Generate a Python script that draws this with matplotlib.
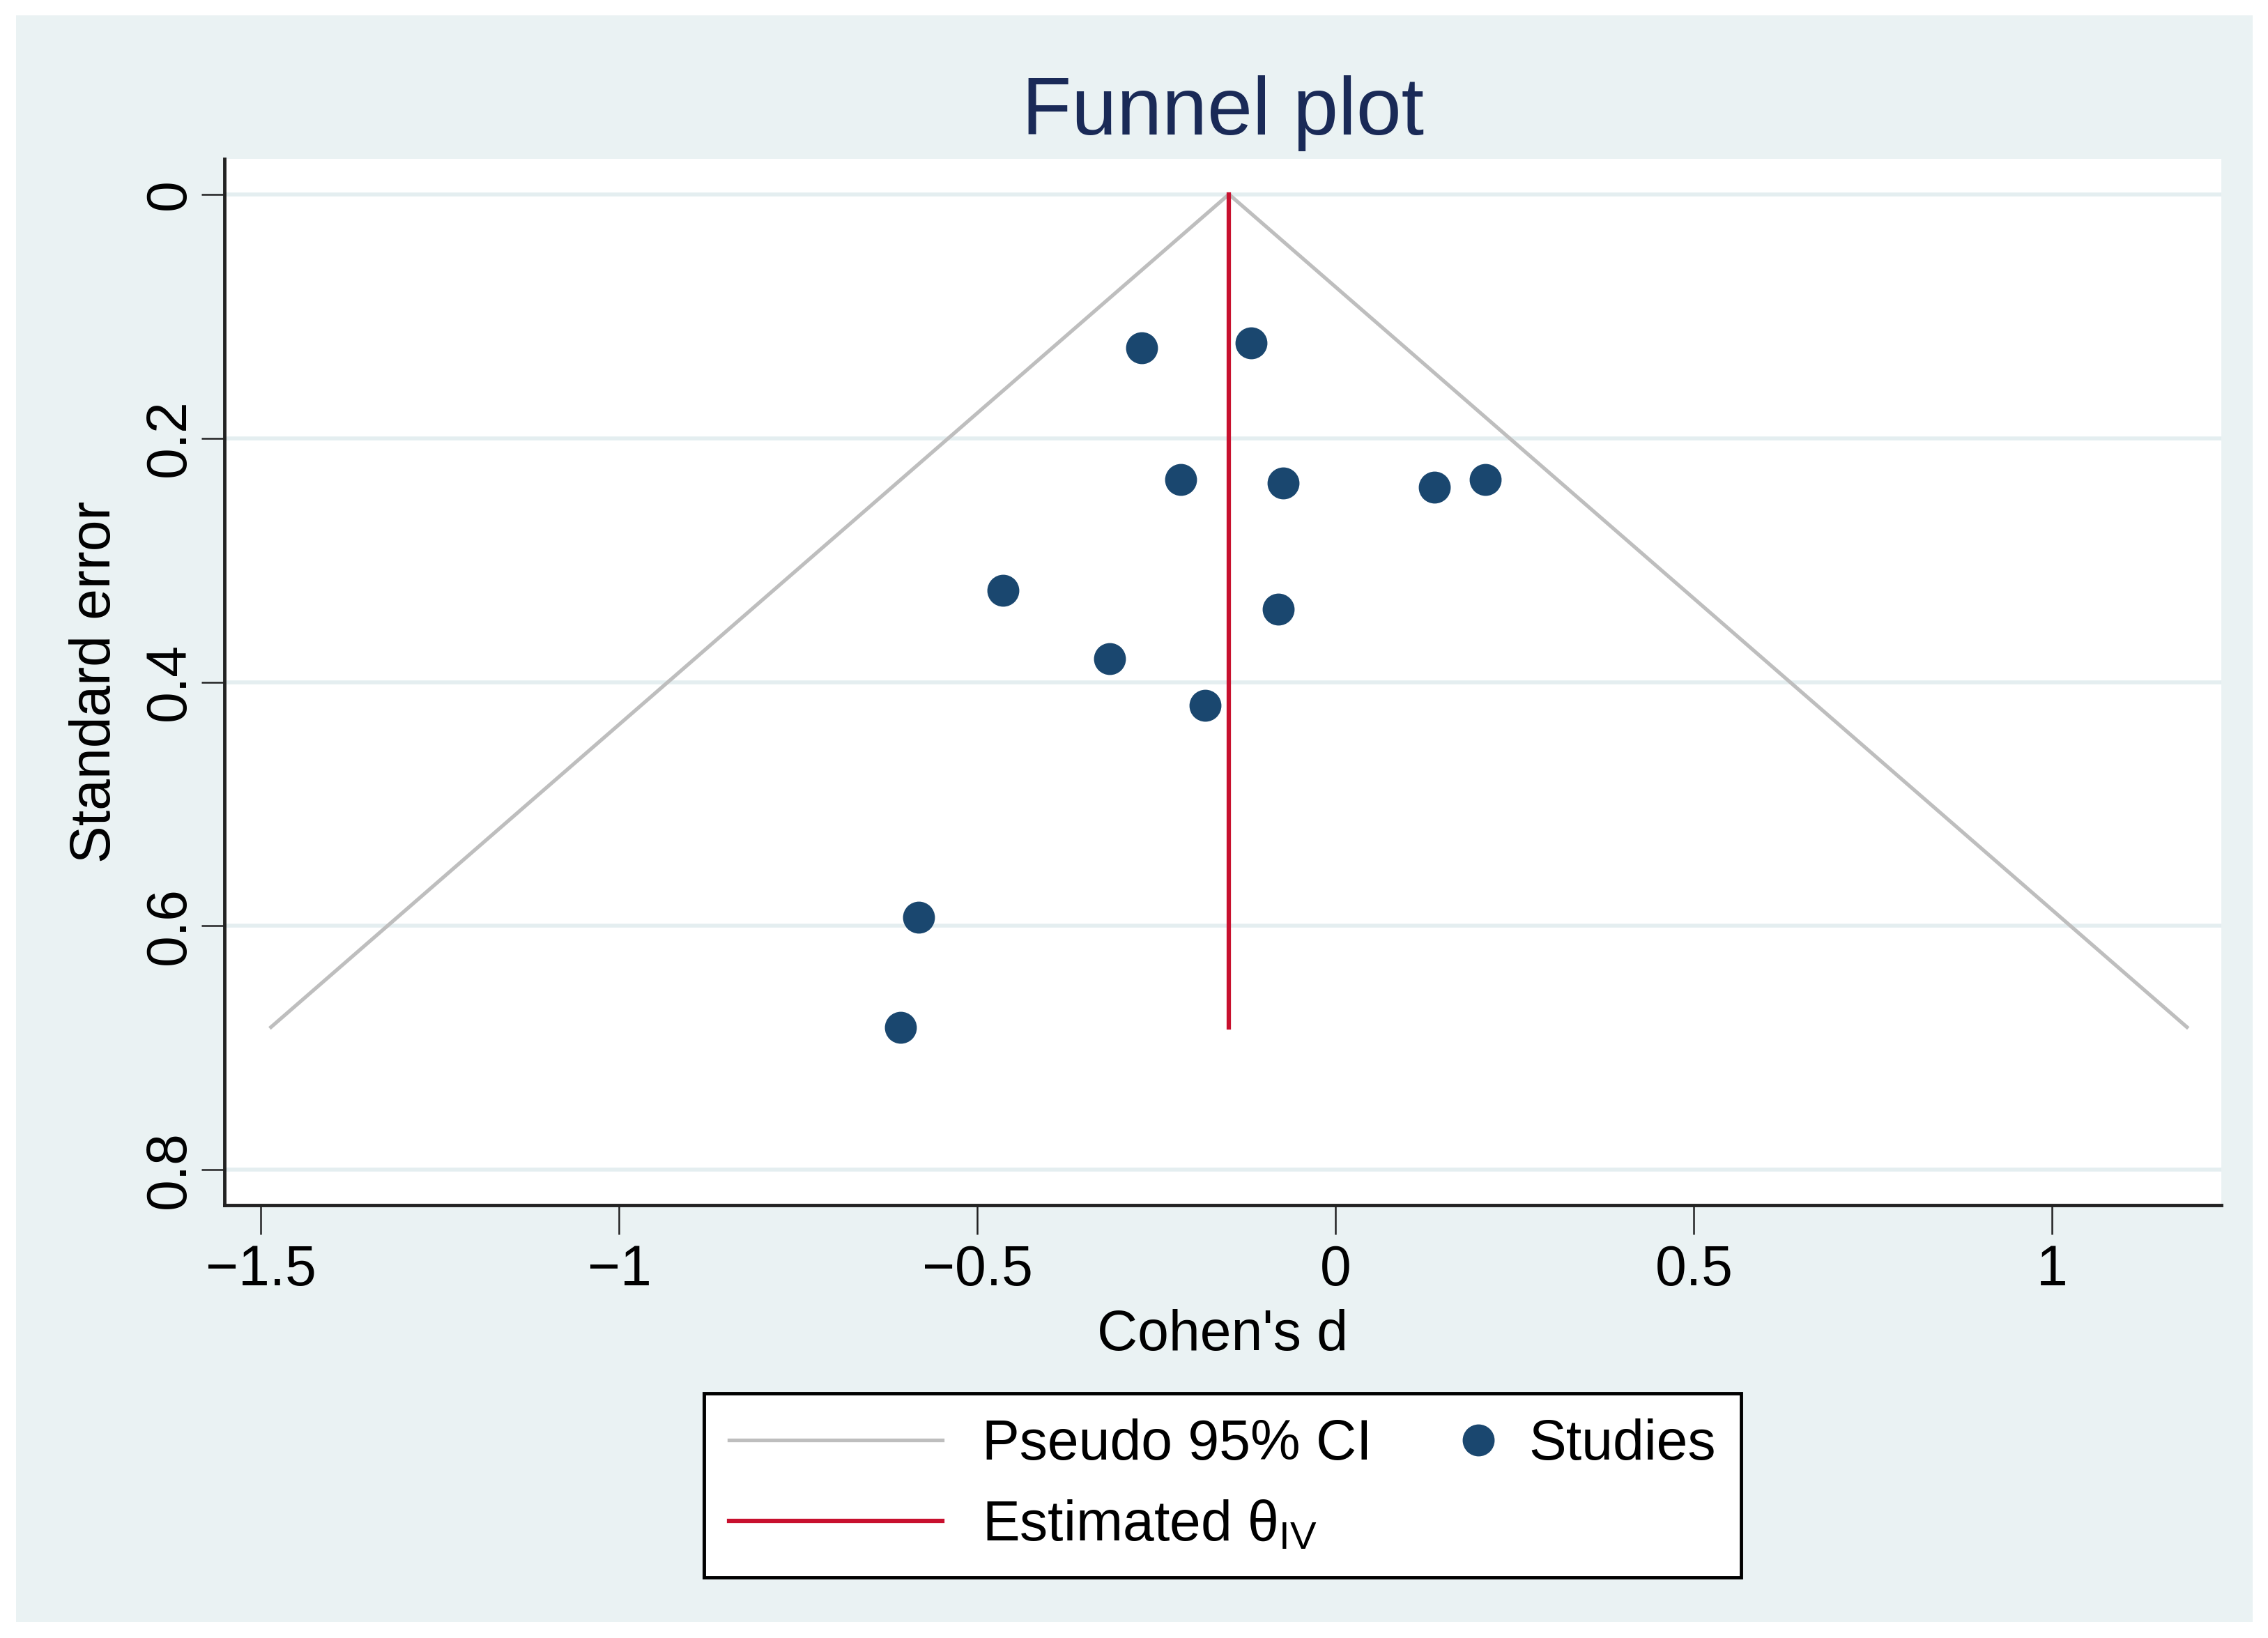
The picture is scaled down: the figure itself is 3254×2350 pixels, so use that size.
import numpy as np
import matplotlib
matplotlib.use('Agg')
import matplotlib.pyplot as plt
from matplotlib.lines import Line2D
from matplotlib.legend_handler import HandlerLine2D
from matplotlib.patches import Rectangle

# ---------------- data ----------------
study_d = [-0.271, -0.118, -0.216, -0.073, 0.138, 0.209, -0.464, -0.080, -0.316, -0.182, -0.582, -0.607]
study_se = [0.126, 0.122, 0.234, 0.237, 0.240, 0.234, 0.325, 0.340, 0.381, 0.419, 0.593, 0.683]
theta_iv = -0.149
ci_x = [-1.486, -0.149, 1.188]
ci_se = [0.683, 0.0, 0.683]
theta_se = [0.0, 0.683]
x_ticks = [-1.5, -1, -0.5, 0, 0.5, 1]
x_tick_labels = ['\u22121.5', '\u22121', '\u22120.5', '0', '0.5', '1']
y_ticks = [0, 0.2, 0.4, 0.6, 0.8]
y_tick_labels = ['0', '0.2', '0.4', '0.6', '0.8']

# ---------------- style ----------------
plt.rcParams['font.family'] = ['Liberation Sans', 'DejaVu Sans']
plt.rcParams['mathtext.fontset'] = 'custom'
plt.rcParams['mathtext.rm'] = 'Liberation Sans'
plt.rcParams['mathtext.it'] = 'Liberation Sans:italic'

W, H = 3255, 2350
BG = '#EAF2F3'
NAVY = '#1A476F'
RED = '#C8102E'
GRAY = '#BEBEBE'
FS = 58

fig = plt.figure(figsize=(W / 100, H / 100), dpi=100, facecolor='white')
fig.patches.append(Rectangle((23 / W, 1 - 2327 / H), (3232 - 23) / W, (2327 - 22) / H,
                             transform=fig.transFigure, facecolor=BG, edgecolor='none', zorder=-10))

ax = fig.add_axes([322 / W, 1 - 1729 / H, (3187 - 322) / W, (1729 - 228) / H])
ax.set_facecolor('white')

ax.set_xlim(-1.551, 1.236)
ax.set_ylim(0.829, -0.029)

ax.set_yticks(y_ticks)
ax.set_yticklabels(y_tick_labels, rotation=90, va='center', fontsize=FS)
ax.set_xticks(x_ticks)
ax.set_xticklabels(x_tick_labels, fontsize=FS)
ax.grid(axis='y', color='#E4EEF0', lw=4)
ax.set_axisbelow(True)

for s in ['top', 'right']:
    ax.spines[s].set_visible(False)
for s in ['left', 'bottom']:
    ax.spines[s].set_linewidth(3.5)
    ax.spines[s].set_color('#222222')

ax.tick_params(axis='x', length=30, width=1.8, pad=10, color='#222222')
ax.tick_params(axis='y', length=24, width=1.8, pad=5, color='#222222')

ci_line, = ax.plot(ci_x, ci_se, color=GRAY, lw=3.8, zorder=2)
est_line, = ax.plot([theta_iv, theta_iv], theta_se, color=RED, lw=4.5, zorder=3)
studies, = ax.plot(study_d, study_se, ls='none', marker='o', ms=32, color=NAVY, zorder=4)

fig.text(1755 / W, 1 - 193 / H, 'Funnel plot', ha='center', va='baseline', fontsize=84, color='#1A2A57')
fig.text(1754 / W, 1 - 1937 / H, "Cohen's d", ha='center', va='baseline', fontsize=FS)
fig.text(137 / W, 1 - 978 / H, 'Standard error', ha='center', va='center', rotation=90, fontsize=FS)


class RightMarker(HandlerLine2D):
    """Place the single legend marker near the right end of the handle box."""
    def get_xdata(self, legend, xdescent, ydescent, width, height, fontsize):
        m = -xdescent + width - 0.2 * fontsize
        xd = np.array([m - 1.0, m + 1.0])
        return xd, np.array([m])


leg = fig.legend([ci_line, est_line, studies],
                 ['Pseudo 95% CI', 'Estimated \u03b8$_{\\mathrm{IV}}$', 'Studies'],
                 loc='center', bbox_to_anchor=(1754 / W, 1 - 2131 / H), ncol=2, fontsize=FS,
                 frameon=True, fancybox=False, edgecolor='black', framealpha=1, facecolor='white',
                 handlelength=3.8, handletextpad=0.7, columnspacing=-1.7, borderpad=0.45,
                 labelspacing=0.5, handler_map={studies: RightMarker()})
leg.get_frame().set_linewidth(3.5)

fig.savefig('out.png', dpi=100, facecolor='white')
